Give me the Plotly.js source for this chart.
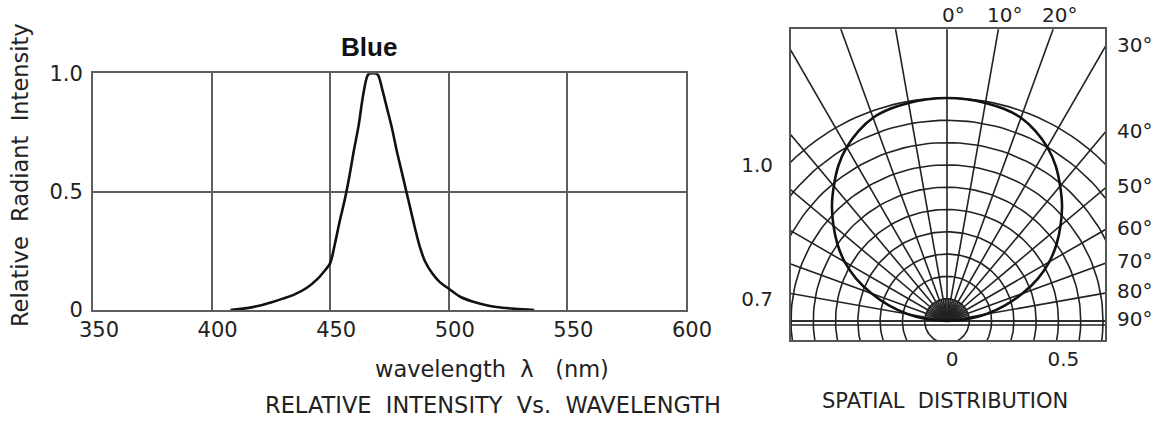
<!DOCTYPE html>
<html><head><meta charset="utf-8">
<script src="https://cdn.plot.ly/plotly-3.0.1.min.js"></script>
<style>html,body{margin:0;padding:0;background:#fff;} #chart{width:1161px;height:421px;}</style>
</head><body><div id="chart"></div>
<script>
// ---- Left chart: relative intensity vs wavelength ----
const wavelengthNm = [408,415,420,425,430,435,440,445,448,450,452,454,456,458,460,462,464,466,468,470,472,474,476,478,480,482,484,486,488,490,493,496,500,505,510,515,520,528,536];
const relIntensity = [0.0,0.008,0.018,0.032,0.048,0.066,0.093,0.135,0.17,0.198,0.28,0.375,0.46,0.56,0.675,0.78,0.915,0.995,1.0,0.995,0.93,0.85,0.77,0.675,0.59,0.505,0.42,0.335,0.26,0.205,0.155,0.12,0.09,0.055,0.036,0.022,0.013,0.005,0.0];
const wavelengthTicks = [350,400,450,500,550,600];
const intensityTicks = [0,0.5,1.0];
const intensityTickText = ['0','0.5','1.0'];

// ---- Right chart: spatial distribution (polar pattern in a box) ----
const patternAngleDeg = [-90,-85,-80,-75,-70,-65,-60,-55,-50,-45,-40,-35,-30,-25,-20,-15,-10,-5,0,5,10,15,20,25,30,35,40,45,50,55,60,65,70,75,80,85,90];
const patternIntensity = [0.0,0.09,0.18,0.27,0.36,0.45,0.53,0.60,0.665,0.73,0.79,0.85,0.90,0.94,0.97,0.985,0.993,0.998,1.0,0.998,0.993,0.985,0.97,0.94,0.90,0.85,0.79,0.73,0.665,0.60,0.53,0.45,0.36,0.27,0.18,0.09,0.0];
const ringRadii = [0.1,0.2,0.3,0.4,0.5,0.6,0.7,0.8,0.9,1.0];
const spokeAngleDeg = [-90,-80,-70,-60,-50,-40,-30,-20,-10,0,10,20,30,40,50,60,70,80,90];
const fineSpokeAngleDeg = [-85,-75,-65,-55,-45,-35,-25,-15,-5,5,15,25,35,45,55,65,75,85];
const angleLabelDeg = [0,10,20,30,40,50,60,70,80,90];
const spatialXTickVals = [0,0.5];
const spatialXTickText = ['0','0.5'];
const spatialYTickVals = [0.1,0.7];
const spatialYTickText = ['0.7','1.0'];
const baseLineY = [0,-0.018];

const W = 1161, H = 421;
const px = v => v / W, py = v => 1 - v / H;
const X2 = [-0.700, 0.709], Y2 = [-0.0852, 1.308];
const rad = d => d * Math.PI / 180;

// grid geometry for the polar diagram
const gx = [], gy = [];
ringRadii.forEach(r => {
  for (let a = 0; a <= 360; a += 2) { gx.push(r * Math.cos(rad(a))); gy.push(r * Math.sin(rad(a))); }
  gx.push(null); gy.push(null);
});
spokeAngleDeg.forEach(d => {
  gx.push(0, 2 * Math.sin(rad(d)), null); gy.push(0, 2 * Math.cos(rad(d)), null);
});
fineSpokeAngleDeg.forEach(d => {
  gx.push(0, ringRadii[0] * Math.sin(rad(d)), null); gy.push(0, ringRadii[0] * Math.cos(rad(d)), null);
});
baseLineY.forEach(y => { gx.push(X2[0], X2[1], null); gy.push(y, y, null); });

const patX = patternAngleDeg.map((d, i) => patternIntensity[i] * Math.sin(rad(d)));
const patY = patternAngleDeg.map((d, i) => patternIntensity[i] * Math.cos(rad(d)));

const traces = [
  {x: wavelengthNm, y: relIntensity, xaxis: 'x', yaxis: 'y', mode: 'lines',
   line: {color: '#111', width: 2.6, shape: 'spline', smoothing: 0.8}, hoverinfo: 'skip'},
  {x: gx, y: gy, xaxis: 'x2', yaxis: 'y2', mode: 'lines',
   line: {color: '#222', width: 1.6}, hoverinfo: 'skip'},
  {x: patX, y: patY, xaxis: 'x2', yaxis: 'y2', mode: 'lines',
   line: {color: '#111', width: 2.6, shape: 'spline', smoothing: 1}, hoverinfo: 'skip'}
];

const tickFont = {family: 'DejaVu Sans', size: 21, color: '#222'};
const annFont = s => ({family: 'DejaVu Sans', size: s, color: '#222'});
const nb = s => s.replace(/ /g, '\u00a0');
const paperText = (text, x, y, size, extra) => Object.assign({text: text, x: px(x), y: py(y),
  xref: 'paper', yref: 'paper', showarrow: false, xanchor: 'center', yanchor: 'middle', font: annFont(size)}, extra || {});

const annotations = [
  paperText('<b>Blue</b>', 369, 47, 26, {font: {family: 'Liberation Sans, Arial', size: 26, color: '#111'}}),
  paperText(nb('Relative  Radiant  Intensity'), 20, 175, 22.5, {textangle: -90}),
  paperText(nb('wavelength  λ   (nm)'), 492, 369, 22.5),
  paperText(nb('RELATIVE  INTENSITY  Vs.  WAVELENGTH'), 493, 405, 22.5),
  paperText(nb('SPATIAL  DISTRIBUTION'), 945, 401, 21)
];
angleLabelDeg.forEach(d => {
  const t = Math.tan(rad(d));
  const xTop = Y2[1] * t;
  if (xTop <= X2[1]) {
    annotations.push({text: d + '°', x: xTop, y: Y2[1], xref: 'x2', yref: 'y2', showarrow: false,
      xanchor: 'center', yanchor: 'bottom', xshift: 6, font: annFont(20)});
  } else {
    annotations.push({text: d + '°', x: X2[1], y: X2[1] / t, xref: 'x2', yref: 'y2', showarrow: false,
      xanchor: 'left', yanchor: 'middle', xshift: 10, yshift: 2, font: annFont(20)});
  }
});

const layout = {
  width: W, height: H, margin: {l: 0, r: 0, t: 0, b: 0},
  paper_bgcolor: '#fff', plot_bgcolor: '#fff', showlegend: false,
  xaxis: {domain: [px(93), px(686)], range: [350, 600], tickvals: wavelengthTicks,
    showgrid: true, gridcolor: '#5e5e5e', gridwidth: 2, zeroline: false,
    showline: true, mirror: true, linecolor: '#5e5e5e', linewidth: 2,
    ticks: '', tickfont: tickFont, ticklabelstandoff: 0, ticklabelshift: 6, fixedrange: true},
  yaxis: {domain: [py(310), py(73.3)], range: [0, 1], tickvals: intensityTicks, ticktext: intensityTickText,
    showgrid: true, gridcolor: '#5e5e5e', gridwidth: 2, zeroline: false,
    showline: true, mirror: true, linecolor: '#5e5e5e', linewidth: 2,
    ticks: '', tickfont: tickFont, ticklabelstandoff: 4, fixedrange: true},
  xaxis2: {domain: [px(791), px(1105)], range: X2, anchor: 'y2', tickvals: spatialXTickVals, ticktext: spatialXTickText,
    showgrid: false, zeroline: false, showline: true, mirror: true, linecolor: '#555', linewidth: 2,
    ticks: '', tickfont: {family: 'DejaVu Sans', size: 20, color: '#222'}, ticklabelstandoff: 0, ticklabelshift: 5, fixedrange: true},
  yaxis2: {domain: [py(340), py(29.3)], range: Y2, anchor: 'x2', tickvals: spatialYTickVals, ticktext: spatialYTickText,
    showgrid: false, zeroline: false, showline: true, mirror: true, linecolor: '#555', linewidth: 2,
    ticks: '', tickfont: {family: 'DejaVu Sans', size: 20, color: '#222'}, ticklabelstandoff: 12, fixedrange: true},
  annotations: annotations
};

Plotly.newPlot('chart', traces, layout, {displayModeBar: false, staticPlot: true});
</script>
</body></html>
